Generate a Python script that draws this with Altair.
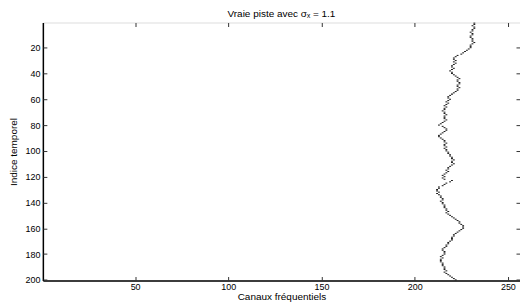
import altair as alt
import pandas as pd

FONT = "Liberation Sans"

# time index (rows of the image) and detected frequency channel of the true track
times = list(range(1, 201))
track = [
    232, 232, 231, 232, 232, 231, 231, 230, 231, 231,
    230, 230, 231, 231, 231, 232, 231, 230, 230, 230,
    229, 228, 227, 226, 225, 223, 222, 221, 221, 222,
    221, 222, 221, 220, 220, 221, 220, 219, 220, 220,
    221, 222, 223, 224, 223, 223, 224, 224, 223, 223,
    224, 223, 223, 222, 221, 220, 219, 218, 218, 219,
    218, 217, 218, 217, 216, 217, 216, 216, 215, 216,
    216, 217, 216, 216, 216, 217, 216, 215, 214, 213,
    215, 216, 217, 217, 216, 215, 214, 213, 213, 214,
    215, 216, 216, 217, 216, 216, 217, 216, 217, 217,
    218, 218, 219, 219, 220, 220, 221, 220, 220, 221,
    220, 219, 218, 218, 217, 218, 217, 216, 215, 216,
    215, 216, 220, 219, 217, 216, 215, 213, 213, 212,
    212, 213, 212, 213, 214, 214, 215, 215, 214, 215,
    215, 216, 216, 216, 217, 217, 218, 217, 218, 219,
    220, 221, 222, 223, 224, 224, 225, 226, 226, 226,
    225, 224, 223, 222, 221, 221, 220, 220, 220, 219,
    218, 218, 217, 217, 216, 215, 215, 216, 216, 216,
    215, 214, 215, 214, 214, 214, 215, 215, 215, 216,
    216, 216, 217, 216, 217, 218, 219, 220, 221, 222,
]

x_ticks = [50, 100, 150, 200, 250]
y_ticks = [20, 40, 60, 80, 100, 120, 140, 160, 180, 200]
x_domain = [0.5, 256.5]
y_domain = [0.5, 200.5]

df = pd.DataFrame({"t": times, "canal": track})

base = alt.Chart(df).transform_calculate(
    x1="datum.canal - 0.5",
    x2="datum.canal + 0.5",
    y1="datum.t - 0.4",
    y2="datum.t + 0.4",
)

xscale = alt.Scale(domain=x_domain, nice=False, zero=False)
yscale = alt.Scale(domain=y_domain, nice=False, zero=False, reverse=True)


def label_axis(orient, values, title):
    return alt.Axis(
        orient=orient, values=values, ticks=False, grid=False,
        domain=True, domainColor="black", domainWidth=1.5,
        labelFont=FONT, labelFontSize=9, labelColor="black",
        labelPadding=2 if orient == "bottom" else 3,
        title=title, titleFont=FONT, titleFontSize=10,
        titleFontWeight="normal", titleColor="black",
        titlePadding=0 if orient == "bottom" else 6,
        labelFlush=False, labelOverlap=False,
    )


def tick_axis(orient, values):
    return alt.Axis(
        orient=orient, values=values, labels=False, domain=False, grid=False,
        ticks=True, tickSize=4, offset=-4, tickColor="#333333", title=None,
    )


main = base.mark_rect(color="#1a1a1a").encode(
    x=alt.X("x1:Q", scale=xscale, axis=label_axis("bottom", x_ticks, "Canaux fréquentiels")),
    x2="x2:Q",
    y=alt.Y("y1:Q", scale=yscale, axis=label_axis("left", y_ticks, "Indice temporel")),
    y2="y2:Q",
)

ticks_bl = base.mark_rect(opacity=0).encode(
    x=alt.X("x1:Q", scale=xscale, axis=tick_axis("bottom", x_ticks)),
    x2="x2:Q",
    y=alt.Y("y1:Q", scale=yscale, axis=tick_axis("left", y_ticks)),
    y2="y2:Q",
)

ticks_tr = base.mark_rect(opacity=0).encode(
    x=alt.X("x1:Q", scale=xscale, axis=tick_axis("top", x_ticks)),
    x2="x2:Q",
    y=alt.Y("y1:Q", scale=yscale, axis=tick_axis("right", y_ticks)),
    y2="y2:Q",
)

chart = (
    alt.layer(main, ticks_bl, ticks_tr)
    .resolve_axis(x="independent", y="independent")
    .properties(
        width=479,
        height=259,
        autosize=alt.AutoSizeParams(type="none"),
        padding={"left": 35, "top": 14, "right": 0, "bottom": 24},
        title=alt.TitleParams(
            "Vraie piste avec σₓ = 1.1", font=FONT, fontSize=10,
            fontWeight="normal", color="black", offset=3, anchor="middle",
        ),
    )
    .configure_view(stroke="black", strokeWidth=1)
    .configure(background="white")
)

chart.save("out.html", embed_options={"renderer": "svg", "actions": False})
